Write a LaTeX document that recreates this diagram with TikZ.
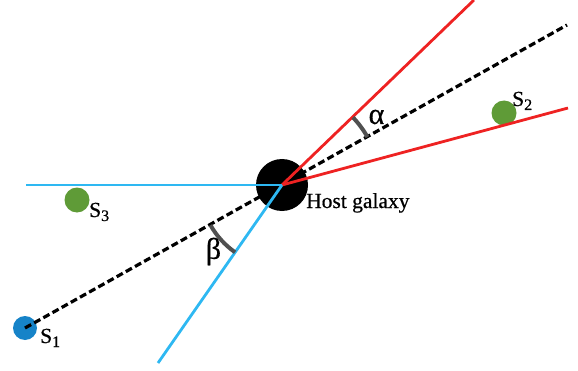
\documentclass[tikz,border=0pt]{standalone}
\usepackage{fontspec}
\setmainfont{Liberation Serif}
\newfontfamily\labfont{Liberation Serif}[FakeBold=0.6]
\definecolor{redl}{HTML}{EE2222}
\definecolor{bluel}{HTML}{2EB8F2}
\definecolor{blues}{HTML}{1683C8}
\definecolor{greens}{HTML}{5F9B37}
\definecolor{greyarc}{HTML}{505050}
\newcommand{\srclabel}[1]{S\raisebox{-4pt}{\fontsize{16}{16}\selectfont #1}}
\begin{document}
\begin{tikzpicture}[x=1pt,y=1pt,
  redline/.style={draw=redl, line width=2.8pt},
  blueline/.style={draw=bluel, line width=2.8pt},
  dashline/.style={draw=black, line width=3.2pt, dash pattern=on 7pt off 3.5pt},
  anglearc/.style={draw=greyarc, line width=4pt},
  source/.style={circle, inner sep=0pt, minimum size=#1},
  lab/.style={inner sep=0pt, font=\labfont\fontsize{21.5}{22}\selectfont},
  greek/.style={inner sep=0pt, font=\labfont\fontsize{30}{30}\selectfont}]
\useasboundingbox (0,0) rectangle (578,370);
% host galaxy
\node[circle, fill=black, minimum size=52pt, inner sep=0pt] (host) at (282,185) {};
% sources
\node[source=24pt, fill=blues] (s1) at (25,42) {};
\node[source=25pt, fill=greens] (s2) at (504,257) {};
\node[source=25pt, fill=greens] (s3) at (77,170) {};
% end coordinates
\coordinate (dend) at (567,345);
\coordinate (rup) at (474,370);
\coordinate (rlow) at (568,262);
\coordinate (bleft) at (26,185);
\coordinate (blow) at (158,7);
% dashed line of sight
\draw[dashline] (s1.center) -- (dend);
% red lines
\draw[redline] (host.center) -- (rup);
\draw[redline] (host.center) -- (rlow);
% blue lines
\draw[blueline] (bleft) -- (host.center);
\draw[blueline] (host.center) -- (blow);
% angle arcs
\draw[anglearc] ([shift={(29.3:98)}]host.center) arc[start angle=29.3, end angle=43.6, radius=98];
\draw[anglearc] ([shift={(209.3:82)}]host.center) arc[start angle=209.3, end angle=235.1, radius=82];
% labels
\node[greek] (alpha) at (376.5,253) {α};
\node[greek] (beta) at (213.5,118.5) {β};
\node[lab, anchor=base west] (hostlab) at (306,162) {Host galaxy};
\node[lab, anchor=base west] (s1lab) at (40,27) {\srclabel{1}};
\node[lab, anchor=base west] (s2lab) at (512,264) {\srclabel{2}};
\node[lab, anchor=base west] (s3lab) at (89,153) {\srclabel{3}};
\end{tikzpicture}
\end{document}
